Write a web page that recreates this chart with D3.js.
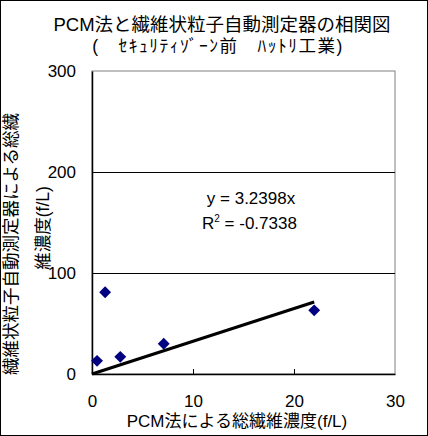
<!DOCTYPE html>
<html>
<head>
<meta charset="utf-8">
<script src="https://cdn.jsdelivr.net/npm/d3@7"></script>
<style>
  body { margin: 0; background: #fff; }
  text { font-family: "Liberation Sans", Arial, "Noto Sans CJK JP", sans-serif; fill: #000; }
</style>
</head>
<body>
<div id="chart"></div>
<script>
// データ (PCM法 vs 自動測定器)
const pcmValues = [0.5, 1.3, 2.8, 7.1, 22.0];
const autoValues = [13, 81, 17, 30, 63];
const slope = 3.2398;
const xTicks = [0, 10, 20, 30];
const yTicks = [0, 100, 200, 300];

const W = 428, H = 436;
const MARGIN = { TOP: 71, BOTTOM: 62, LEFT: 92, RIGHT: 33 };
const WIDTH = W - MARGIN.LEFT - MARGIN.RIGHT;
const HEIGHT = H - MARGIN.TOP - MARGIN.BOTTOM;

const svg = d3.select('#chart').append('svg')
  .attr('width', W).attr('height', H);

// 外枠
svg.append('rect')
  .attr('x', 0.5).attr('y', 0.5)
  .attr('width', W - 1).attr('height', H - 1)
  .attr('fill', 'white').attr('stroke', '#000');

const g = svg.append('g')
  .attr('transform', `translate(${MARGIN.LEFT}, ${MARGIN.TOP})`);

const x = d3.scaleLinear().domain([0, 30]).range([0, WIDTH]);
const y = d3.scaleLinear().domain([0, 300]).range([HEIGHT, 0]);

// プロットエリア枠
g.append('rect')
  .attr('x', 0).attr('y', 0)
  .attr('width', WIDTH).attr('height', HEIGHT)
  .attr('fill', 'none').attr('stroke', '#808080');

// 目盛線
g.selectAll('.grid').data(yTicks.filter(d => d > 0 && d < 300)).enter()
  .append('line')
  .attr('x1', 0).attr('x2', WIDTH)
  .attr('y1', d => Math.round(y(d)) + 0.5).attr('y2', d => Math.round(y(d)) + 0.5)
  .attr('stroke', '#000');

// 軸
const xAxis = g.append('g')
  .attr('transform', `translate(0, ${HEIGHT})`)
  .call(d3.axisBottom(x).tickValues(xTicks).tickSizeInner(-5).tickSizeOuter(0).tickPadding(21));
const yAxis = g.append('g')
  .call(d3.axisLeft(y).tickValues(yTicks).tickSizeInner(0).tickSizeOuter(0).tickPadding(16));
[xAxis, yAxis].forEach(a => {
  a.select('.domain').attr('stroke', '#000').attr('stroke-width', 1.5);
  a.selectAll('.tick line').attr('stroke', '#000');
  a.selectAll('.tick text').attr('font-size', 17)
    .style('font-family', '"Liberation Sans", Arial, sans-serif');
});
xAxis.selectAll('.tick line').filter(d => d === 0 || d === 30).remove();

// 近似直線
const xMax = d3.max(pcmValues);
g.append('line')
  .attr('x1', x(0)).attr('y1', y(0))
  .attr('x2', x(xMax)).attr('y2', y(slope * xMax))
  .attr('stroke', '#000').attr('stroke-width', 3);

// マーカー
const pts = pcmValues.map((v, i) => ({ x: v, y: autoValues[i] }));
g.selectAll('.pt').data(pts).enter()
  .append('path')
  .attr('d', d3.symbol().type(d3.symbolDiamond2).size(90))
  .attr('transform', d => `translate(${x(d.x)}, ${y(d.y)})`)
  .attr('fill', '#000080');

// タイトル
svg.append('text').attr('x', 222).attr('y', 31)
  .attr('text-anchor', 'middle').attr('font-size', 18.5)
  .text('PCM法と繊維状粒子自動測定器の相関図');
svg.append('text').attr('x', 218).attr('y', 52)
  .attr('text-anchor', 'middle').attr('font-size', 17.5)
  .attr('letter-spacing', 1.5)
  .text('(　ｾｷｭﾘﾃｨｿﾞｰﾝ前　ﾊｯﾄﾘ工業)');

// 軸ラベル
svg.append('text').attr('x', 237).attr('y', 427)
  .attr('text-anchor', 'middle').attr('font-size', 17)
  .text('PCM法による総繊維濃度(f/L)');
svg.append('text')
  .attr('transform', 'translate(17, 244) rotate(-90)')
  .attr('text-anchor', 'middle').attr('font-size', 17.5)
  .text('繊維状粒子自動測定器による総繊');
svg.append('text')
  .attr('transform', 'translate(49, 228) rotate(-90)')
  .attr('text-anchor', 'middle').attr('font-size', 17.5)
  .text('維濃度(f/L)');

// 数式
g.append('text').attr('x', 251 - MARGIN.LEFT).attr('y', 204 - MARGIN.TOP)
  .attr('text-anchor', 'middle').attr('font-size', 17)
  .text('y = 3.2398x');
const r2 = g.append('text').attr('x', 202 - MARGIN.LEFT).attr('y', 229 - MARGIN.TOP)
  .attr('font-size', 17);
r2.append('tspan').text('R');
r2.append('tspan').attr('font-size', 10).attr('dy', -7).text('2');
r2.append('tspan').attr('dy', 7).text(' =  -0.7338');
</script>
</body>
</html>
